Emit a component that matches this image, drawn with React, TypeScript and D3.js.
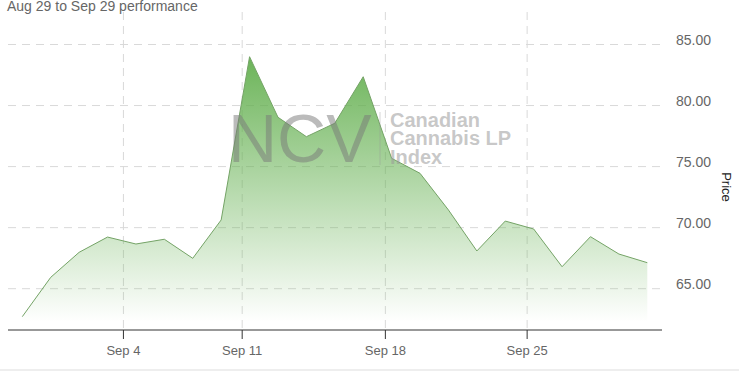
import React from "react";
import * as d3 from "d3";

const dates = ["Aug 29","Aug 30","Aug 31","Sep 1","Sep 5","Sep 6","Sep 7","Sep 8","Sep 11","Sep 12","Sep 13","Sep 14","Sep 15","Sep 18","Sep 19","Sep 20","Sep 21","Sep 22","Sep 25","Sep 26","Sep 27","Sep 28","Sep 29"];
const prices = [62.71, 65.93, 67.98, 69.23, 68.66, 69.05, 67.49, 70.63, 84.0, 79.04, 77.45, 78.55, 82.36, 75.68, 74.45, 71.45, 68.09, 70.54, 69.89, 66.8, 69.26, 67.84, 67.13];
const yTicks = [65, 70, 75, 80, 85];
const xTickLabels = ["Sep 4", "Sep 11", "Sep 18", "Sep 25"];
const xTickIndex = [3.56, 7.74, 12.78, 17.77];
const title = "Aug 29 to Sep 29 performance";
const watermark = "NCV";
const watermarkLines = ["Canadian", "Cannabis LP", "Index"];

const W = 739, H = 376;
const plotLeft = 8, plotRight = 662, plotTop = 12, plotBottom = 330;
const FONT = "Arial, 'Liberation Sans', sans-serif";

export default function App() {
  const x = d3.scaleLinear().domain([0, dates.length - 1]).range([22.3, 647.3]);
  const y = d3.scaleLinear().domain([65, 85]).range([288.7, 44.5]);
  const yBottom = plotBottom;
  const idx = prices.map((_, i) => i);
  const area = d3.area<number>().x((i) => x(i)).y0(yBottom).y1((i) => y(prices[i]))(idx) || "";
  const line = d3.line<number>().x((i) => x(i)).y((i) => y(prices[i]))(idx) || "";
  const maxY = y(d3.max(prices) as number);

  return (
    <svg width={W} height={H} style={{ position: "fixed", left: 0, top: 0, background: "#fff" }} fontFamily={FONT}>
      <defs>
        <linearGradient id="ag" gradientUnits="userSpaceOnUse" x1="0" y1={maxY} x2="0" y2={yBottom - 8}>
          <stop offset="0" stopColor="rgb(100,176,80)" stopOpacity={0.95} />
          <stop offset="1" stopColor="rgb(100,176,80)" stopOpacity={0} />
        </linearGradient>
      </defs>
      {/* horizontal grid */}
      {yTicks.map((t) => (
        <line key={"h" + t} x1={plotLeft} x2={plotRight} y1={y(t)} y2={y(t)} stroke="#d9d9d9" strokeDasharray="8,6" />
      ))}
      {/* vertical grid */}
      {xTickIndex.map((p, i) => (
        <line key={"v" + i} x1={x(p)} x2={x(p)} y1={plotTop} y2={plotBottom} stroke="#d9d9d9" strokeDasharray="8,6" />
      ))}
      <path d={area} fill="url(#ag)" />
      <path d={line} fill="none" stroke="#74a366" strokeWidth={1} />
      {/* watermark */}
      <text x={228} y={162} fontSize={68} fill="#777" fillOpacity={0.5}>{watermark}</text>
      <line x1={380} x2={380} y1={112} y2={165} stroke="#999" strokeOpacity={0.4} />
      {watermarkLines.map((s, i) => (
        <text key={s} x={390} y={127 + i * 18.4} fontSize={20} fontWeight="bold" fill="#999" fillOpacity={0.55}>{s}</text>
      ))}
      {/* x axis */}
      <line x1={plotLeft} x2={plotRight} y1={plotBottom} y2={plotBottom} stroke="#333" />
      {xTickIndex.map((p, i) => (
        <g key={"xt" + i}>
          <line x1={x(p)} x2={x(p)} y1={plotBottom} y2={plotBottom + 9} stroke="#333" />
          <text x={x(p)} y={355} fontSize={13} fill="#666" textAnchor="middle">{xTickLabels[i]}</text>
        </g>
      ))}
      {/* y labels */}
      {yTicks.map((t) => (
        <text key={"yl" + t} x={676} y={y(t) + 0.5} fontSize={14} fill="#666">{t.toFixed(2)}</text>
      ))}
      <text transform="translate(721.5,187) rotate(90)" fontSize={13} fill="#222" textAnchor="middle">Price</text>
      <text x={7} y={11} fontSize={14} fill="#666">{title}</text>
      <line x1={0} x2={W} y1={370} y2={370} stroke="#e8e8e8" strokeWidth={1.5} />
    </svg>
  );
}
